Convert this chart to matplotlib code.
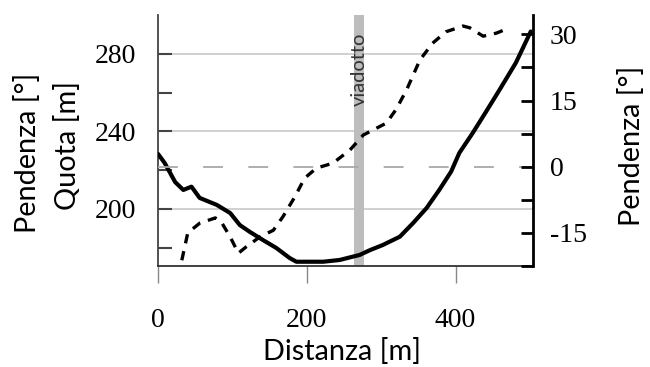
import matplotlib
matplotlib.use("Agg")
import matplotlib.pyplot as plt

# profilo altimetrico (quota) lungo il tracciato
dist_quota = [0, 9, 23, 34, 45, 56, 79, 97, 110, 123, 141, 159, 177, 186, 222,
              244, 271, 285, 302, 325, 343, 361, 378, 394, 405, 423, 441, 459,
              481, 501]
quota = [228.4, 223.7, 213.9, 209.8, 211.5, 205.7, 202.1, 197.9, 191.7, 188.3,
         184.0, 179.9, 174.7, 172.8, 172.8, 173.7, 176.3, 178.8, 181.4, 185.7,
         192.8, 200.5, 209.8, 219.3, 228.9, 239.2, 250.2, 261.4, 275.4, 291.5]

# pendenza del versante
dist_pend = [32, 40, 56, 77, 85, 97, 108, 119, 137, 155, 168, 184, 197, 213,
             235, 258, 276, 307, 320, 334, 352, 369, 387, 410, 419, 437, 455,
             468]
pendenza = [-21.2, -15.0, -12.8, -11.6, -12.5, -15.9, -19.6, -18.1, -15.9,
            -14.4, -11.3, -6.8, -2.6, -0.3, 0.8, 3.8, 7.2, 9.9, 13.0, 17.4,
            24.2, 28.0, 30.6, 31.9, 31.5, 29.6, 30.3, 31.2]

viadotto = (263, 277)

quota_ticks = [200, 240, 280]
quota_minor = [180, 220, 260]
pend_ticks = [-15, 0, 15, 30]
pend_minor = [-22.5, -7.5, 7.5, 22.5]
dist_ticks = [0, 200, 400]

# numeri in serif, etichette in sans
plt.rcParams["font.family"] = ["Liberation Serif", "DejaVu Serif"]
plt.rcParams["axes.unicode_minus"] = False
sans = ["Lato", "DejaVu Sans"]

fig = plt.figure(figsize=(6.5, 3.67), dpi=100)
ax = fig.add_axes([158 / 650, 1 - 266 / 367, 375 / 650, 251 / 367])
ax2 = ax.twinx()

ax.set_xlim(0, 504)
ax.set_ylim(170.6, 300)
ax2.set_ylim(-22.5, 34.4)

# griglia orizzontale e linea dello zero della pendenza
for q in quota_ticks:
    ax.axhline(q, color="#c8c8c8", lw=1.2, zorder=0)
ax2.axhline(0, color="#a8a8a8", lw=1.3, dashes=(11, 14), zorder=0)

ax.axvspan(*viadotto, color="#bdbdbd", lw=0, zorder=1)
ax.text(sum(viadotto) / 2, 290.7, "viadotto", rotation=90, ha="center",
        va="top", fontsize=14.5, family=sans, color="#333333", zorder=2)

ax.plot(dist_quota, quota, color="black", lw=3.0, solid_capstyle="round",
        solid_joinstyle="round", zorder=3)
ax2.plot(dist_pend, pendenza, color="black", lw=2.4, dashes=(2.8, 2.4),
         zorder=3)

ax.set_yticks(quota_ticks)
ax.set_yticks(quota_minor, minor=True)
ax.set_xticks(dist_ticks)
ax2.set_yticks(pend_ticks)
ax2.set_yticks(pend_minor, minor=True)

ax.tick_params(axis="y", which="both", direction="in", length=10, width=1.5,
               color="#444444", pad=16, labelsize=20)
ax.tick_params(axis="x", direction="out", length=12, width=1, color="#888888",
               pad=18, labelsize=20)
ax2.tick_params(axis="y", which="both", direction="in", length=9, width=2,
                color="black", pad=12, labelsize=20)

for a in (ax, ax2):
    a.spines["top"].set_visible(False)
ax.spines["left"].set_color("#444444")
ax.spines["left"].set_linewidth(1.3)
ax.spines["bottom"].set_color("#333333")
ax.spines["bottom"].set_linewidth(1.3)
ax.spines["right"].set_visible(False)
ax2.spines["left"].set_visible(False)
ax2.spines["bottom"].set_visible(False)
ax2.spines["right"].set_linewidth(2)

fig.text(28 / 650, 1 - 153 / 367, "Pendenza [°]", rotation=90, ha="center",
         va="center", fontsize=20.8, family=sans)
fig.text(68 / 650, 1 - 146 / 367, "Quota [m]", rotation=90, ha="center",
         va="center", fontsize=20.8, family=sans)
fig.text(632 / 650, 1 - 146 / 367, "Pendenza [°]", rotation=90, ha="center",
         va="center", fontsize=20.8, family=sans)
fig.text(342 / 650, 1 - 352 / 367, "Distanza [m]", ha="center", va="center",
         fontsize=20.8, family=sans)

fig.savefig("out.png", dpi=100)
